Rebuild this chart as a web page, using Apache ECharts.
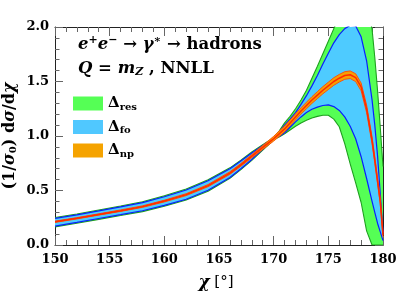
<!DOCTYPE html>
<html>
<head>
<meta charset="utf-8">
<script src="https://cdn.jsdelivr.net/npm/echarts@6/dist/echarts.min.js"></script>
<style>html,body{margin:0;padding:0;background:#fff;}#c{width:399px;height:300px;}</style>
</head>
<body>
<div id="c"></div>
<script>
// ---- data ----
var chi     = [150,152,154,156,158,160,162,164,166,167,168,169,169.5,170,170.5,171,171.5,172,172.5,173,173.5,174,174.5,175,175.5,176,176.5,177,177.5,178,178.5,179,179.25,179.5,179.75,180];
var central = [0.213,0.245,0.280,0.315,0.352,0.403,0.462,0.545,0.660,0.735,0.815,0.895,0.935,0.975,1.020,1.065,1.120,1.175,1.230,1.280,1.330,1.375,1.420,1.460,1.500,1.530,1.555,1.562,1.535,1.450,1.250,0.960,0.780,0.590,0.400,0.090];
var npLow   = [0.207,0.239,0.274,0.308,0.345,0.395,0.453,0.535,0.648,0.722,0.800,0.877,0.915,0.953,0.995,1.039,1.093,1.147,1.201,1.250,1.299,1.343,1.387,1.426,1.465,1.495,1.520,1.527,1.499,1.414,1.215,0.928,0.750,0.562,0.375,0.070];
var npHigh  = [0.219,0.251,0.286,0.322,0.359,0.411,0.471,0.555,0.672,0.748,0.830,0.913,0.955,0.997,1.045,1.091,1.147,1.203,1.259,1.310,1.361,1.407,1.453,1.494,1.535,1.565,1.590,1.597,1.571,1.486,1.285,0.992,0.810,0.618,0.425,0.110];
var foLow   = [0.174,0.207,0.243,0.278,0.314,0.363,0.420,0.502,0.620,0.699,0.785,0.878,0.923,0.972,0.995,1.030,1.080,1.130,1.175,1.215,1.245,1.265,1.280,1.285,1.270,1.235,1.175,1.090,0.975,0.810,0.610,0.400,0.300,0.200,0.120,0.040];
var foHigh  = [0.244,0.277,0.313,0.350,0.389,0.443,0.505,0.590,0.700,0.770,0.845,0.912,0.947,0.978,1.035,1.100,1.155,1.215,1.290,1.370,1.460,1.555,1.660,1.760,1.855,1.930,1.985,2.015,2.010,1.910,1.690,1.330,1.100,0.820,0.470,0.120];
var resLow  = [0.166,0.199,0.235,0.270,0.306,0.355,0.412,0.494,0.612,0.691,0.777,0.870,0.917,0.969,0.990,1.020,1.055,1.090,1.120,1.145,1.165,1.180,1.190,1.190,1.155,1.085,0.930,0.745,0.570,0.390,0.130,0.000,0.000,0.000,0.000,0.000];
var resHigh = [0.252,0.285,0.321,0.358,0.397,0.451,0.513,0.598,0.708,0.778,0.853,0.920,0.953,0.981,1.045,1.120,1.180,1.250,1.330,1.420,1.530,1.640,1.755,1.870,1.985,2.100,2.200,2.280,2.320,2.300,2.200,1.980,1.720,1.420,1.080,0.720];

// ---- styles ----
var SERIF = '"DejaVu Serif", "Liberation Serif", serif';
var C = {
  resFill:'#55ff55', resLine:'#1fa01f',
  foFill:'#4ecbff',  foLine:'#0a1eff',
  npFill:'#f7a000',  npLine:'#ff4a00',
  mid:'#ff2a00'
};

function pairs(ys){ return chi.map(function(x,i){ return [x, ys[i]]; }); }

function bandFill(name, lo, hi, fill, z){
  return {
    type:'custom', name:name, coordinateSystem:'cartesian2d', z:z, silent:true, clip:true, animation:false,
    itemStyle:{color:fill},
    data:[[chi[0], lo[0]]],
    renderItem:function(params, api){
      var pts = [], i;
      for (i = 0; i < chi.length; i++) pts.push(api.coord([chi[i], hi[i]]));
      for (i = chi.length - 1; i >= 0; i--) pts.push(api.coord([chi[i], lo[i]]));
      var cs = params.coordSys;
      return {type:'polygon', shape:{points:pts}, style:{fill:fill, stroke:null},
        clipPath:{type:'rect', shape:{x:cs.x, y:cs.y, width:cs.width, height:cs.height}}};
    }
  };
}
function edge(name, ys, color, w, z){
  return {type:'line', name:name, data:pairs(ys), showSymbol:false, symbol:'none', smooth:false,
    lineStyle:{color:color, width:w}, z:z, silent:true, animation:false};
}

var series = [
  bandFill('res', resLow, resHigh, C.resFill, 1),
  edge('res_lo', resLow, C.resLine, 1.1, 2), edge('res_hi', resHigh, C.resLine, 1.1, 2),
  bandFill('fo', foLow, foHigh, C.foFill, 3),
  edge('fo_lo', foLow, C.foLine, 1.2, 4), edge('fo_hi', foHigh, C.foLine, 1.2, 4),
  bandFill('np', npLow, npHigh, C.npFill, 5),
  edge('np_lo', npLow, C.npLine, 0.9, 6), edge('np_hi', npHigh, C.npLine, 0.9, 6),
  edge('central', central, C.mid, 1.5, 7)
];

var tickLabel = {fontFamily:SERIF, fontWeight:'bold', fontSize:13, color:'#000'};
function xAx(pos, labels){
  return {type:'value', min:150, max:180, interval:5, position:pos,
    axisLine:{show:true, onZero:false, lineStyle:{color:'#222', width:1}},
    axisTick:{show:true, inside:true, length:9, lineStyle:{color:'#666', width:1}},
    minorTick:{show:true, splitNumber:5, length:5, lineStyle:{color:'#666', width:1}},
    splitLine:{show:false}, minorSplitLine:{show:false},
    axisLabel:Object.assign({show:labels, margin:8}, tickLabel)};
}
function yAx(pos, labels){
  return {type:'value', min:0, max:2, interval:0.5, position:pos,
    axisLine:{show:true, onZero:false, lineStyle:{color:'#222', width:1}},
    axisTick:{show:true, inside:true, length:8, lineStyle:{color:'#666', width:1}},
    minorTick:{show:true, splitNumber:5, length:4.5, lineStyle:{color:'#666', width:1}},
    splitLine:{show:false}, minorSplitLine:{show:false},
    axisLabel:Object.assign({show:labels, margin:6, formatter:function(v){return v.toFixed(1);}}, tickLabel)};
}
var xa = xAx('bottom', true);
xa.name = '{i|χ}{n| [°]}';
xa.nameLocation = 'middle';
xa.nameGap = 29;
xa.nameMoveOverlap = false;
xa.nameTextStyle = {padding:[0,6,0,0], rich:{
  i:{fontFamily:SERIF, fontWeight:'bold', fontStyle:'italic', fontSize:17, color:'#000'},
  n:{fontFamily:SERIF, fontSize:15, color:'#000'}}};
var ya = yAx('left', true);
ya.name = '{n|(1/}{i|σ}{s|0}{n|) d}{i|σ}{n|/d}{i|χ}';
ya.nameLocation = 'middle';
ya.nameGap = 37;
ya.nameRotate = 90;
ya.nameMoveOverlap = false;
ya.nameTextStyle = {rich:{
  n:{fontFamily:SERIF, fontWeight:'bold', fontSize:16, color:'#000'},
  i:{fontFamily:SERIF, fontWeight:'bold', fontStyle:'italic', fontSize:16, color:'#000'},
  s:{fontFamily:SERIF, fontWeight:'bold', fontSize:10, color:'#000', padding:[7,0,0,0]}}};

var legText = {res:'res', fo:'fo', np:'np'};

var option = {
  backgroundColor:'#fff',
  animation:false,
  grid:{left:55, right:16, top:27, bottom:55, containLabel:false, outerBoundsMode:'none'},
  xAxis:[xa, xAx('top', false)],
  yAxis:[ya, yAx('right', false)],
  legend:{
    left:73, top:96, orient:'vertical', itemWidth:30, itemHeight:14, itemGap:7.5, padding:0,
    selectedMode:false,
    data:[
      {name:'res', icon:'rect', itemStyle:{color:C.resFill, borderWidth:0}},
      {name:'fo',  icon:'rect', itemStyle:{color:'#50c8ff', borderWidth:0}},
      {name:'np',  icon:'rect', itemStyle:{color:'#f5a300', borderWidth:0}}
    ],
    formatter:function(n){ return '{d|Δ}{s|' + legText[n] + '}'; },
    textStyle:{rich:{
      d:{fontFamily:SERIF, fontWeight:'bold', fontSize:15, color:'#000'},
      s:{fontFamily:SERIF, fontWeight:'bold', fontSize:10, color:'#000', padding:[7,0,0,0]}}}
  },
  graphic:[
    {type:'text', left:78, top:35, z:20, style:{
      text:'{i|e}{p|+}{i|e}{p|−}{n| → }{i|γ}{p|∗}{n| → hadrons}',
      rich:{
        i:{fontFamily:SERIF, fontWeight:'bold', fontStyle:'italic', fontSize:16.5, fill:'#000'},
        n:{fontFamily:SERIF, fontWeight:'bold', fontSize:16.5, fill:'#000'},
        p:{fontFamily:SERIF, fontWeight:'bold', fontSize:11, fill:'#000', padding:[0,0,8,0]}
      }}},
    {type:'text', left:78, top:60, z:20, style:{
      text:'{i|Q}{n| = }{i|m}{s|Z}{n| , NNLL}',
      rich:{
        i:{fontFamily:SERIF, fontWeight:'bold', fontStyle:'italic', fontSize:16.5, fill:'#000'},
        n:{fontFamily:SERIF, fontWeight:'bold', fontSize:16.5, fill:'#000'},
        s:{fontFamily:SERIF, fontWeight:'bold', fontStyle:'italic', fontSize:11, fill:'#000', padding:[7,0,0,0]}
      }}}
  ],
  series:series
};
var chart = echarts.init(document.getElementById('c'), null, {renderer:'canvas'});
chart.setOption(option);
</script>
</body>
</html>
